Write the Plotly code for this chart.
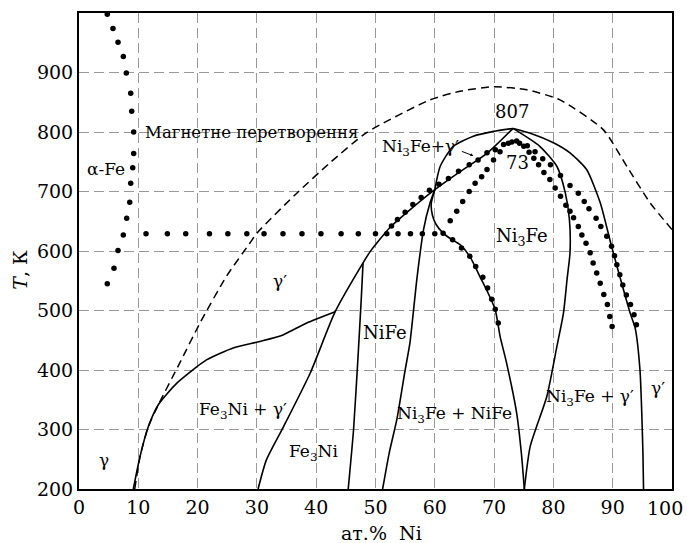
import plotly.graph_objects as go

# ---- data (x: at.% Ni, y: T in K) ----
fe3ni_gamma_x = [9.16, 10.3, 11.7, 13.4, 16.5, 21.5, 26.0, 30.5, 34.4, 38.4, 43.2]
fe3ni_gamma_y = [200, 255, 305, 342, 378, 417, 437, 448, 459, 479, 498]

diag_x = [30.2, 31.6, 34.5, 39.0, 43.2, 47.9, 49.1, 52.4, 55.8, 60.0, 64.2, 68.8, 73.2]
diag_y = [200, 249, 305, 395, 498, 580, 599, 639, 669, 703, 733, 764, 806]

nife_left_x = [45.4, 46.3, 47.1, 47.6, 47.9]
nife_left_y = [200, 300, 430, 520, 580]

nife_right_x = [51.2, 52.3, 53.6, 55.0, 55.8, 57.0, 58.1, 59.2, 60.0]
nife_right_y = [200, 260, 317, 400, 445, 555, 636, 681, 703]

dome_left_x = [60.0, 60.9, 63.1, 66.5, 69.9, 73.2]
dome_left_y = [703, 742, 776, 793, 801, 806]

dome_right_x = [73.2, 76.1, 80.0, 82.8, 85.6, 87.9, 89.8, 91.2, 92.9, 93.8, 94.6, 94.9, 95.1, 95.2]
dome_right_y = [806, 798, 782, 765, 737, 681, 608, 557, 497, 470, 400, 328, 260, 200]

inner_left_x = [60.0, 59.4, 59.6, 60.2, 61.4, 62.6, 64.2, 65.9, 67.6, 69.0, 70.2, 71.0, 72.1, 73.8, 74.6, 75.1]
inner_left_y = [703, 680, 660, 645, 630, 621, 611, 591, 557, 529, 501, 457, 412, 328, 260, 200]

inner_right_x = [73.2, 77.7, 80.6, 82.0, 82.7, 82.8, 82.3, 81.7, 80.6, 78.9, 76.1, 75.1]
inner_right_y = [806, 776, 742, 698, 653, 597, 552, 496, 440, 356, 272, 200]

magnet_x = [9.4, 10.3, 11.7, 13.4, 17.0, 20.4, 24.9, 28.8, 30.0, 36.5, 42.3, 48.5, 59.2, 64.5, 70.0, 75.5, 81.1, 88.4, 92.4, 96.3, 100.0]
magnet_y = [200, 255, 305, 342, 412, 479, 558, 613, 630, 695, 748, 799, 854, 869, 876, 871, 854, 804, 742, 681, 636]

alpha_dots_x = [4.77, 5.73, 6.58, 7.47, 7.98, 8.72, 8.89, 9.22, 9.22, 9.06, 8.72, 8.55, 8.04, 7.47, 6.58, 5.9, 4.77]
alpha_dots_y = [998, 974, 951, 927, 899, 865, 835, 800, 764, 740, 714, 682, 655, 627, 601, 571, 545]

row_dots_x = [11.3, 14.9, 18.0, 22.0, 25.1, 28.3, 31.2, 34.4, 37.6, 40.8, 44.2, 47.1, 50.0, 51.9, 53.8, 55.9, 57.9, 60.0, 61.4,
              63.0, 64.5, 65.9, 66.9, 68.1, 68.9, 69.6, 70.2, 70.7]
row_dots_y = [629, 629, 629, 629, 629, 629, 629, 629, 629, 629, 629, 629, 629, 629, 629, 629, 629, 629, 630,
              619, 605, 591, 574, 556, 538, 519, 502, 479]

outer_dots_x = [52.7, 53.7, 55.0, 56.3, 57.7, 59.1, 60.7, 62.3, 64.0, 65.8, 67.3, 68.8, 70.2, 71.6, 73.0,
                74.3, 75.6, 76.9, 78.2, 79.5, 81.2, 82.8, 84.2, 85.2, 86.0, 87.2, 88.0, 89.0, 89.8, 90.3, 90.7,
                91.2, 91.7, 92.3, 93.0, 93.6, 94.0]
outer_dots_y = [642, 653, 665, 678, 690, 702, 712, 722, 734, 745, 753, 765, 770, 779, 783,
                781, 777, 767, 755, 745, 727, 710, 697, 683, 671, 655, 641, 625, 608, 592, 577,
                560, 543, 526, 510, 493, 476]

inner_dots_x = [62.6, 63.7, 64.7, 65.8, 66.8, 67.9, 68.8, 69.9, 71.0, 72.4, 73.8, 75.0, 75.9, 76.7, 77.5, 78.4,
                79.4, 80.3, 81.2, 82.1, 82.8, 83.4, 84.2, 84.8, 85.5, 86.2, 86.7, 87.3, 87.9, 88.5, 89.1, 89.5, 89.9]
inner_dots_y = [651, 667, 683, 700, 714, 725, 737, 753, 767, 781, 785, 776, 766, 756, 745, 732,
                720, 706, 692, 677, 667, 656, 641, 627, 613, 597, 580, 563, 546, 527, 510, 490, 473]

x_ticks = [0, 10, 20, 30, 40, 50, 60, 70, 80, 90, 100]
y_ticks = [200, 300, 400, 500, 600, 700, 800, 900]

labels = [
    ("Магнетне перетворення", 10.8, 800, 16.5, "left"),
    ("α-Fe", 4.5, 738, 17, "center"),
    ("807", 73.0, 834, 18, "center"),
    ("Ni<sub>3</sub>Fe+γ′", 57.6, 774, 17, "center"),
    ("73", 74.0, 748, 18, "center"),
    ("Ni<sub>3</sub>Fe", 74.7, 624, 18, "center"),
    ("γ′", 33.9, 550, 17, "center"),
    ("NiFe", 51.6, 463, 18, "center"),
    ("Fe<sub>3</sub>Ni + γ′", 27.7, 332, 17, "center"),
    ("Fe<sub>3</sub>Ni", 39.5, 261, 17, "center"),
    ("γ", 4.2, 248, 17, "center"),
    ("Ni<sub>3</sub>Fe + NiFe", 63.4, 325, 17, "center"),
    ("Ni<sub>3</sub>Fe + γ′", 86.2, 353, 17, "center"),
    ("γ′", 97.6, 370, 17, "center"),
]

FONT = "DejaVu Serif"
TICKFONT = dict(family=FONT, size=19, color="black")

fig = go.Figure()

solid = dict(color="black", width=1.6, shape="spline", smoothing=0.6)
for xs, ys in [(fe3ni_gamma_x, fe3ni_gamma_y), (diag_x, diag_y), (nife_left_x, nife_left_y),
               (nife_right_x, nife_right_y), (dome_left_x, dome_left_y), (dome_right_x, dome_right_y),
               (inner_left_x, inner_left_y), (inner_right_x, inner_right_y)]:
    fig.add_trace(go.Scatter(x=xs, y=ys, mode="lines", line=solid, showlegend=False, hoverinfo="skip"))

fig.add_trace(go.Scatter(x=magnet_x, y=magnet_y, mode="lines",
                         line=dict(color="black", width=1.5, dash="8px,5px", shape="spline", smoothing=0.6),
                         showlegend=False, hoverinfo="skip"))

for xs, ys in [(alpha_dots_x, alpha_dots_y), (row_dots_x, row_dots_y),
               (outer_dots_x, outer_dots_y), (inner_dots_x, inner_dots_y)]:
    fig.add_trace(go.Scatter(x=xs, y=ys, mode="markers",
                             marker=dict(color="black", size=5.5, line=dict(width=0)),
                             showlegend=False, hoverinfo="skip"))

for text, x, y, size, anchor in labels:
    fig.add_annotation(x=x, y=y, text=text, showarrow=False, xanchor=anchor, yanchor="middle",
                       font=dict(family=FONT, size=size, color="black"))

# pointer from "Ni3Fe+γ′" label to the boundary line
fig.add_annotation(x=66.5, y=760, ax=-13, ay=-5, text="", showarrow=True,
                   arrowhead=2, arrowsize=0.6, arrowwidth=1, arrowcolor="black")

# last x tick label, nudged left so it stays inside the page
fig.add_annotation(x=x_ticks[-1], yref="paper", y=0, text=str(x_ticks[-1]), showarrow=False,
                   xanchor="center", yanchor="top", xshift=-7, yshift=-6, font=TICKFONT)

# axis titles
fig.add_annotation(xref="paper", yref="paper", x=-0.100, y=0.46, text="<i>T</i>, К", textangle=-90,
                   showarrow=False, font=dict(family=FONT, size=19, color="black"),
                   xanchor="center", yanchor="middle")
fig.add_annotation(xref="paper", yref="paper", x=0.51, y=-0.092, text="ат.%  Ni",
                   showarrow=False, font=dict(family=FONT, size=19, color="black"),
                   xanchor="center", yanchor="middle")

axis_common = dict(showline=True, linecolor="black", linewidth=2, mirror=True,
                   showgrid=True, gridcolor="#999999", gridwidth=1.2, griddash="10px,5px",
                   zeroline=False, ticks="", automargin=False, tickfont=TICKFONT)

fig.update_xaxes(range=[0, 100], tickvals=x_ticks,
                 ticktext=[str(v) for v in x_ticks[:-1]] + [""], **axis_common)
fig.update_yaxes(range=[200, 1000], tickvals=y_ticks, ticktext=[str(v) for v in y_ticks], **axis_common)

fig.update_layout(width=687, height=543, margin=dict(l=79, r=15, t=13, b=54),
                  paper_bgcolor="white", plot_bgcolor="white", showlegend=False)

fig.write_html("out.html")
